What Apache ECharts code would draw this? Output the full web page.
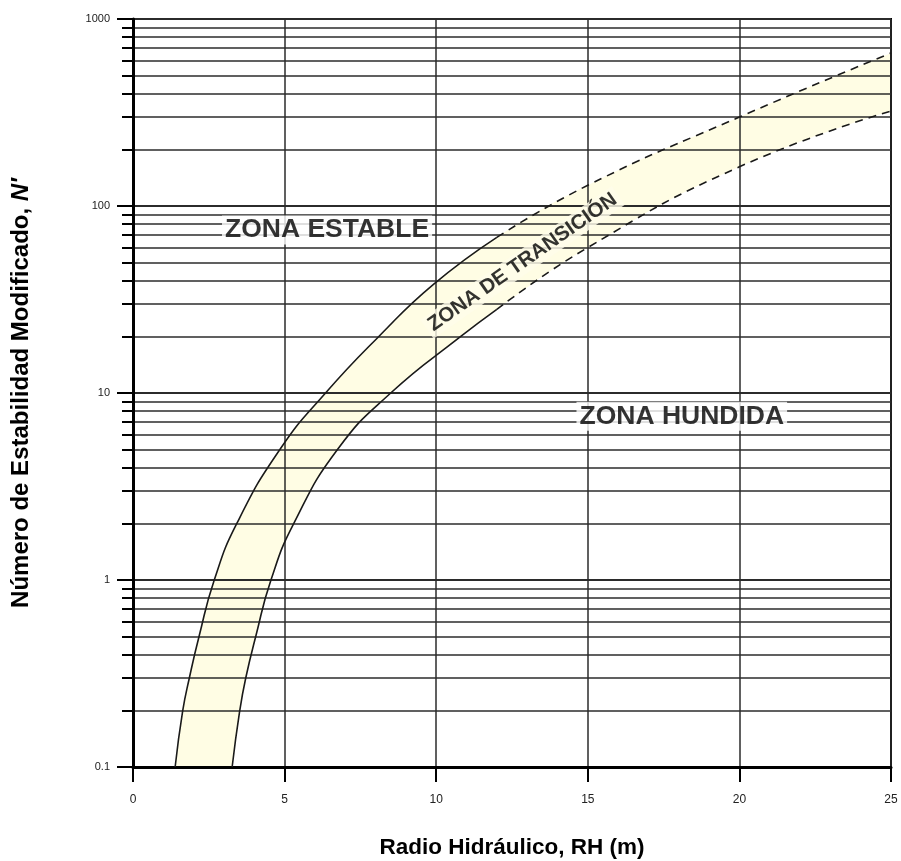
<!DOCTYPE html>
<html>
<head>
<meta charset="utf-8">
<script src="https://cdn.jsdelivr.net/npm/echarts@6/dist/echarts.min.js"></script>
<style>
  html, body { margin: 0; padding: 0; background: #fff; }
  #chart { width: 901px; height: 861px; }
</style>
</head>
<body>
<div id="chart"></div>
<script>
// Axis ticks
const xTicks = [0, 5, 10, 15, 20, 25];
const yMajorTicks = [0.1, 1, 10, 100, 1000];
const yMinorTicks = [0.2, 0.3, 0.4, 0.5, 0.6, 0.7, 0.8, 0.9,
                     2, 3, 4, 5, 6, 7, 8, 9,
                     20, 30, 40, 50, 60, 70, 80, 90,
                     200, 300, 400, 500, 600, 700, 800, 900];

// Upper boundary of the transition zone (stable side)
const upperRH = [1.39, 1.64, 1.86, 2.18, 2.68, 3.42, 4.85, 6.35, 8.1, 9.9, 12.0, 15, 20, 25];
const upperN  = [0.1, 0.2, 0.3, 0.5, 1, 2, 5, 10, 20, 38, 68, 129, 299, 658];

// Lower boundary of the transition zone (caving side)
const lowerRH = [3.27, 3.52, 3.72, 4.05, 4.55, 5.3, 6.75, 8.5, 10.8, 12.0, 15, 20, 25];
const lowerN  = [0.1, 0.2, 0.3, 0.5, 1, 2, 5, 10, 20, 28, 60, 162, 322];

// Beyond this radius the boundaries are drawn dashed
const dashFromRH = 12;

// Zone labels
const zoneNames = ['ZONA ESTABLE', 'ZONA HUNDIDA', 'ZONA DE TRANSICIÓN'];
const zoneRH    = [6.4, 18.1, 12.85];
const zoneN     = [74.5, 7.5, 50];

function pairs(xs, ys) { return xs.map((x, i) => [x, ys[i]]); }
function solidPart(xs, ys) { return pairs(xs, ys).filter(p => p[0] <= dashFromRH); }
function dashedPart(xs, ys) { return pairs(xs, ys).filter(p => p[0] >= dashFromRH); }

const chart = echarts.init(document.getElementById('chart'), null, { renderer: 'canvas' });

const lineColor = '#1a1a1a';
const gridColor = '#2b2b2b';
const bandColor = '#fffde4';
const fontFamily = 'Liberation Sans, Arial, sans-serif';
const smoothness = 0.5;

function boundary(data, dashed) {
  return {
    type: 'line', data: data, smooth: smoothness, showSymbol: false, silent: true,
    lineStyle: { color: lineColor, width: 1.6, type: dashed ? [8, 6] : 'solid' }, z: 3
  };
}

const option = {
  backgroundColor: '#ffffff',
  animation: false,
  grid: { left: 133, right: 10, top: 19, bottom: 94, outerBoundsMode: 'none', containLabel: false,
          show: true, borderColor: '#000', borderWidth: 2, backgroundColor: 'transparent' },
  xAxis: {
    type: 'value', min: 0, max: 25, interval: 5,
    name: 'Radio Hidráulico, RH (m)', nameLocation: 'middle', nameGap: 69,
    nameTextStyle: { fontFamily, fontSize: 22.5, fontWeight: 'bold', color: '#000' },
    axisLine: { show: true, lineStyle: { color: '#000', width: 3 } },
    axisTick: { show: true, inside: false, length: 15, lineStyle: { color: '#000', width: 2 } },
    axisLabel: { margin: 27, fontFamily, fontSize: 12, color: '#222', customValues: xTicks },
    splitLine: { show: true, lineStyle: { color: gridColor, width: 1.5 } }
  },
  yAxis: [
    {
      type: 'log', logBase: 10, min: 0.1, max: 1000,
      name: 'Número de Estabilidad Modificado, {it|N′}', nameLocation: 'middle', nameGap: 100, nameRotate: 90,
      nameTextStyle: { fontFamily, fontSize: 24, fontWeight: 'bold', color: '#000',
        rich: { it: { fontFamily, fontSize: 24, fontWeight: 'bold', fontStyle: 'italic', color: '#000' } } },
      axisLine: { show: true, lineStyle: { color: '#000', width: 3 } },
      axisTick: { show: true, length: 16, lineStyle: { color: '#000', width: 2 }, customValues: yMajorTicks },
      axisLabel: { margin: 23, fontFamily, fontSize: 11, color: '#222', customValues: yMajorTicks,
        formatter: v => String(v) },
      splitLine: { show: true, lineStyle: { color: gridColor, width: 1.8 } }
    },
    {
      type: 'log', logBase: 10, min: 0.1, max: 1000, position: 'left',
      axisLine: { show: false },
      axisTick: { show: true, length: 11, lineStyle: { color: '#000', width: 2 }, customValues: yMinorTicks },
      axisLabel: { show: false, customValues: yMinorTicks },
      splitLine: { show: true, lineStyle: { color: gridColor, width: 1.5 } }
    }
  ],
  series: [
    // Band shading: fill under the upper boundary, then clear under the lower one
    {
      type: 'line', data: pairs(upperRH, upperN), smooth: smoothness, showSymbol: false, silent: true,
      lineStyle: { width: 0 }, areaStyle: { color: bandColor, opacity: 1, origin: 'start' }, z: -2
    },
    {
      type: 'line', data: pairs(lowerRH, lowerN), smooth: smoothness, showSymbol: false, silent: true,
      lineStyle: { width: 0 }, areaStyle: { color: '#ffffff', opacity: 1, origin: 'start' }, z: -1
    },
    boundary(solidPart(upperRH, upperN), false),
    boundary(dashedPart(upperRH, upperN), true),
    boundary(solidPart(lowerRH, lowerN), false),
    boundary(dashedPart(lowerRH, lowerN), true),
    {
      type: 'scatter', symbolSize: 0, z: 5, silent: true,
      data: zoneNames.map((name, i) => ({
        value: [zoneRH[i], zoneN[i]],
        name: name,
        label: i === 2
          ? { rotate: 35, fontSize: 20.5, backgroundColor: '#fffdea', padding: [1, 4] }
          : { rotate: 0, fontSize: 26.5, backgroundColor: '#ffffff', padding: [1, 3] }
      })),
      label: {
        show: true, position: 'inside', formatter: p => p.name,
        fontFamily, fontWeight: 'bold', color: '#000'
      }
    }
  ]
};

chart.setOption(option);
</script>
</body>
</html>
